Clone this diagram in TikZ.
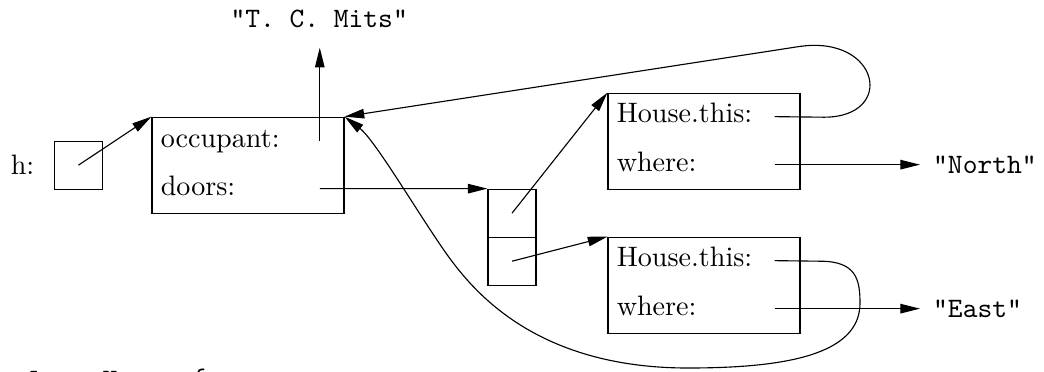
\documentclass[tikz,border=0pt]{standalone}
\usetikzlibrary{arrows.meta, positioning, calc}

\tikzset{
  cell/.style={draw, minimum size=0.6cm, inner sep=0pt},
  rec/.style={draw, minimum width=2.4cm, minimum height=1.2cm, inner sep=0pt},
  fld/.style={anchor=base west, inner sep=0pt},
  val/.style={font=\ttfamily, inner sep=4.5pt},
  ptr/.style={-{Triangle[length=7pt,width=3.4pt]}}
}

\begin{document}
\begin{tikzpicture}
\useasboundingbox (0,0) rectangle (13.05,4.64);

% variable h
\node[cell] (hbox) at (0.98,2.575) {};
\node[left=0.12cm of hbox] (hlbl) {h:};

% the house object
\node[rec] (obj) at (3.1,2.575) {};
\node[fld] (occlbl) at ($(obj.north west)+(0.11,-0.38)$) {occupant:};
\node[fld] (drslbl) at ($(obj.north west)+(0.11,-0.98)$) {doors:};
\coordinate (occ) at ($(obj.north east)+(-0.31,-0.3)$);
\coordinate (drs) at ($(obj.north east)+(-0.31,-0.9)$);
\node[val, anchor=base] (mits) at (3.99,4.3) {"T. C. Mits"};

% doors array
\node[cell] (arr1) at (6.4,1.975) {};
\node[cell] (arr2) at (6.4,1.375) {};

% first door
\node[rec] (door1) at (8.8,2.875) {};
\node[fld] (this1lbl) at ($(door1.north west)+(0.11,-0.375)$) {House.this:};
\node[fld] (where1lbl) at ($(door1.north west)+(0.11,-0.99)$) {where:};
\coordinate (this1) at ($(door1.north east)+(-0.325,-0.3)$);
\coordinate (where1) at ($(door1.north east)+(-0.325,-0.9)$);
\node[val, anchor=west] (north) at (11.5,2.575) {"North"};

% second door
\node[rec] (door2) at (8.8,1.075) {};
\node[fld] (this2lbl) at ($(door2.north west)+(0.11,-0.375)$) {House.this:};
\node[fld] (where2lbl) at ($(door2.north west)+(0.11,-0.99)$) {where:};
\coordinate (this2) at ($(door2.north east)+(-0.325,-0.3)$);
\coordinate (where2) at ($(door2.north east)+(-0.325,-0.9)$);
\node[val, anchor=west] (east) at (11.5,0.775) {"East"};

% source line below
\node[fld, font=\ttfamily] (cls) at (0.17,-0.22) {class House \{};

% pointers
\draw[ptr] (hbox.center) -- (obj.north west);
\draw[ptr, shorten >=2.5pt] (occ) -- (occ |- mits.south);
\draw[ptr] (drs) -- (arr1.north west);
\draw[ptr] (arr1.center) -- (door1.north west);
\draw[ptr] (arr2.center) -- (door2.north west);
\draw[ptr] (where1) -- (where1 -| north.west);
\draw[ptr] (where2) -- (where2 -| east.west);

% House.this back to the house
\draw[ptr] (this1) -- (10.3,3.175) .. controls (11.2,3.175) and (11.0,4.2) .. (10.0,4.06) -- (obj.north east);
\draw[ptr] (this2) -- (10.25,1.375) .. controls (10.7,1.375) and (10.75,1.15) .. (10.75,0.85)
  .. controls (10.75,0.2) and (9.8,0.04) .. (8.6,0.04)
  .. controls (6.8,0.04) and (6.0,0.9) .. (5.63,1.4)
  .. controls (5.3,1.846) and (4.7,2.88) .. (obj.north east);
\end{tikzpicture}
\end{document}
